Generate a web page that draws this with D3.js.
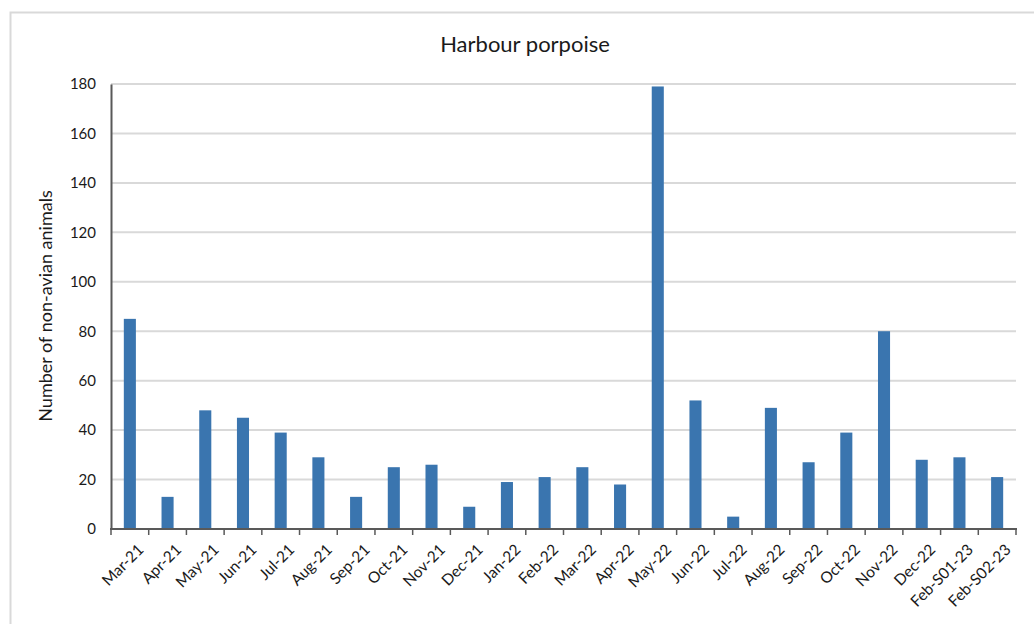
<!DOCTYPE html>
<html><head><meta charset="utf-8">
<script src="https://cdn.jsdelivr.net/npm/d3@7"></script>
<style>
html,body{margin:0;padding:0;background:#fff;}
text{font-family:Lato,"Open Sans",sans-serif;fill:#1a1a1a;}
</style></head>
<body>
<svg id="chart" width="1034" height="624"></svg>
<script>
const categories = ["Mar-21","Apr-21","May-21","Jun-21","Jul-21","Aug-21","Sep-21","Oct-21","Nov-21","Dec-21","Jan-22","Feb-22","Mar-22","Apr-22","May-22","Jun-22","Jul-22","Aug-22","Sep-22","Oct-22","Nov-22","Dec-22","Feb-S01-23","Feb-S02-23"];
const values = [85,13,48,45,39,29,13,25,26,9,19,21,25,18,179,52,5,49,27,39,80,28,29,21];
const yTicks = [0,20,40,60,80,100,120,140,160,180];
const title = "Harbour porpoise";
const yLabel = "Number of non-avian animals";

const svg = d3.select("#chart");
const m = {left:111, right:1016, top:84, bottom:529};

// frame
svg.append("rect").attr("x",10.5).attr("y",12.5).attr("width",1040).attr("height",640)
  .attr("fill","none").attr("stroke","#d9d9d9").attr("stroke-width",2);

const x = d3.scaleBand().domain(categories).range([m.left,m.right]).paddingInner(0.68).paddingOuter(0.34);
const y = d3.scaleLinear().domain([0,180]).range([m.bottom,m.top]);

// gridlines
svg.append("g").selectAll("line").data(yTicks.filter(d=>d>0)).join("line")
  .attr("x1",m.left).attr("x2",m.right).attr("y1",d=>y(d)).attr("y2",d=>y(d))
  .attr("stroke","#d9d9d9").attr("stroke-width",2);

// bars
svg.append("g").selectAll("rect").data(values).join("rect")
  .attr("x",(d,i)=>x(categories[i])).attr("width",x.bandwidth())
  .attr("y",d=>y(d)).attr("height",d=>y(0)-y(d)).attr("fill","#3a75af");

// y axis
const ya = svg.append("g").attr("transform",`translate(${m.left},0)`)
  .call(d3.axisLeft(y).tickValues(yTicks).tickSize(0).tickPadding(15));
ya.select(".domain").attr("stroke","#595959").attr("stroke-width",2);
ya.selectAll("text").attr("font-size",15).attr("fill","#1a1a1a").attr("dy","0.32em");

// x axis
const step = (m.right-m.left)/categories.length;
const xa = svg.append("g").attr("transform",`translate(0,${m.bottom})`);
xa.append("line").attr("x1",m.left-1).attr("x2",m.right+1).attr("stroke","#595959").attr("stroke-width",2);
xa.selectAll("line.tk").data(d3.range(categories.length+1)).join("line").attr("class","tk")
  .attr("x1",i=>m.left+i*step).attr("x2",i=>m.left+i*step).attr("y1",0).attr("y2",6)
  .attr("stroke","#595959").attr("stroke-width",1.5);
xa.selectAll("text").data(categories).join("text")
  .attr("transform",d=>`translate(${x(d)+x.bandwidth()/2+7},14) rotate(-45)`)
  .attr("text-anchor","end").attr("dy","0.7em").attr("font-size",15.5).text(d=>d);

// title
svg.append("text").attr("x",525).attr("y",52).attr("text-anchor","middle").attr("font-size",22).text(title);
// y label
svg.append("text").attr("transform","translate(52,306) rotate(-90)").attr("text-anchor","middle")
  .attr("font-size",18).text(yLabel);
</script>
</body></html>
